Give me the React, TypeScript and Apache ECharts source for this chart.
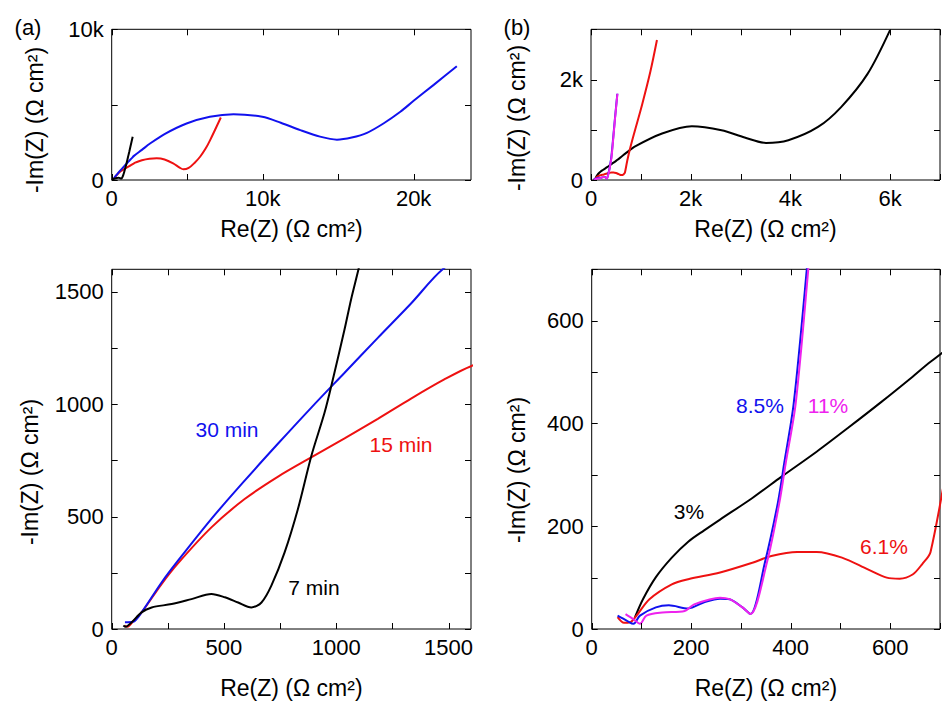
import React, { useEffect, useRef } from "react";
import * as echarts from "echarts";

// ---- data (Re(Z), -Im(Z)) in Ω cm² ----
// panel (a): deposition time
const min7: number[][] = [
  [52, 16], [62, 10], [89, 30], [133, 74], [178, 96], [267, 111], [355, 133], [444, 156],
  [504, 141], [563, 118], [622, 96], [667, 118], [711, 193], [770, 341], [829, 533],
  [889, 770], [948, 963], [985, 1111], [1037, 1333], [1066, 1466], [1099, 1600],
  [1160, 1860], [1250, 2250], [1390, 2870],
];
const min15: number[][] = [
  [59, 15], [70, 10], [96, 35], [133, 74], [222, 200], [296, 293], [444, 452], [592, 578],
  [741, 678], [900, 770], [1037, 848], [1185, 935], [1333, 1025], [1481, 1110], [1600, 1169],
  [2000, 1310], [2500, 1410], [2980, 1437], [3500, 1360], [4070, 1100], [4500, 820],
  [4748, 708], [5100, 800], [5500, 1150], [5855, 1543], [6200, 2050], [6520, 2649],
  [7228, 4150],
];
const min30: number[][] = [
  [59, 30], [95, 32], [133, 74], [222, 207], [296, 305], [444, 490], [592, 660], [741, 825],
  [889, 985], [1037, 1140], [1185, 1295], [1333, 1448], [1474, 1600],
  [2000, 2000], [2540, 2420], [3500, 3050], [4960, 3753], [6500, 4200], [8070, 4371],
  [9970, 4194], [11200, 3800], [12490, 3311], [13800, 2880], [14920, 2679], [15900, 2820],
  [16910, 3132], [18000, 3750], [19120, 4525], [20000, 5254], [21330, 6313], [22860, 7550],
];
// panel (b): doping level
const pct3: number[][] = [
  [87, 23], [103, 58], [129, 101], [161, 139], [194, 170], [226, 192], [258, 213],
  [323, 255], [381, 296], [452, 345], [516, 392], [581, 441], [645, 491], [681, 520],
  [895, 673], [1426, 925], [2022, 1069], [2618, 990], [3082, 846], [3510, 739],
  [3958, 792], [4554, 1056], [5017, 1452], [5547, 2112], [5998, 2984],
];
const pct61: number[][] = [
  [52, 23], [65, 12], [77, 13], [90, 26], [116, 58], [161, 87], [194, 97], [258, 110],
  [323, 129], [361, 142], [413, 150], [452, 150], [503, 139], [555, 116], [593, 100],
  [619, 98], [645, 106], [664, 126], [681, 150], [727, 383], [790, 650], [860, 911],
  [1026, 1505], [1191, 2158], [1323, 2786],
];
const pct85: number[][] = [
  [52, 26], [71, 16], [84, 10], [97, 26], [129, 42], [155, 46], [194, 40], [226, 52],
  [258, 59], [277, 58], [303, 42], [319, 29], [348, 129], [374, 245], [387, 323],
  [406, 439], [432, 697], [478, 1200], [528, 1717],
];
const pct11: number[][] = [
  [68, 29], [84, 19], [97, 10], [110, 26], [142, 32], [187, 35], [206, 48], [258, 61],
  [277, 58], [303, 42], [319, 29], [352, 129], [377, 245], [390, 323], [410, 439],
  [435, 697], [480, 1200], [530, 1717],
];

// tick marks (every tick; labels only on some of them)
const ticksTopAX = [0, 5000, 10000, 15000, 20000];
const ticksTopAY = [0, 5000, 10000];
const ticksTopBX = [0, 1000, 2000, 3000, 4000, 5000, 6000, 7000];
const ticksTopBY = [0, 1000, 2000, 3000];
const ticksBotAX = [0, 250, 500, 750, 1000, 1250, 1500];
const ticksBotAY = [0, 250, 500, 750, 1000, 1250, 1500];
const ticksBotBX = [0, 100, 200, 300, 400, 500, 600, 700];
const ticksBotBY = [0, 100, 200, 300, 400, 500, 600, 700];

const panelLabels = ["(a)", "(b)"];
const labelsA = ["30 min", "15 min", "7 min"];
const labelsB = ["8.5%", "11%", "3%", "6.1%"];

const FONT = "'Liberation Sans', Arial, Helvetica, sans-serif";
const BLACK = "#000000";
const RED = "#ee1111";
const BLUE = "#1111ee";
const MAGENTA = "#ee22ee";
const TICK = 6;

const kFmt = (step: number) => (v: number) =>
  v % step === 0 ? (v === 0 ? "0" : v / 1000 + "k") : "";
const nFmt = (step: number) => (v: number) => (v % step === 0 ? String(v) : "");

type GridDef = {
  left: number; top: number; width: number; height: number;
  xMax: number; xInt: number; xFmt: (v: number) => string; xTicks: number[];
  yMax: number; yInt: number; yFmt: (v: number) => string; yTicks: number[];
  xGap: number; yTitle: [number, number];
};

const grids: GridDef[] = [
  { left: 111.7, top: 29.3, width: 359.3, height: 150.7, xMax: 23800, xInt: 5000, xFmt: kFmt(10000), xTicks: ticksTopAX,
    yMax: 10000, yInt: 5000, yFmt: kFmt(10000), yTicks: ticksTopAY, xGap: 37, yTitle: [35, 120] },
  { left: 591, top: 29.3, width: 350, height: 150.7, xMax: 7000, xInt: 1000, xFmt: kFmt(2000), xTicks: ticksTopBX,
    yMax: 3000, yInt: 1000, yFmt: kFmt(2000), yTicks: ticksTopBY, xGap: 37, yTitle: [517, 118] },
  { left: 111.7, top: 269.3, width: 359.3, height: 359.7, xMax: 1600, xInt: 250, xFmt: nFmt(500), xTicks: ticksBotAX,
    yMax: 1600, yInt: 250, yFmt: nFmt(500), yTicks: ticksBotAY, xGap: 47, yTitle: [30, 472] },
  { left: 591.7, top: 269.3, width: 359.7, height: 359.7, xMax: 700, xInt: 100, xFmt: nFmt(200), xTicks: ticksBotBX,
    yMax: 700, yInt: 100, yFmt: nFmt(200), yTicks: ticksBotBY, xGap: 47, yTitle: [517, 470] },
];

const AXIS_TITLE_X = "Re(Z) (Ω cm²)";
const AXIS_TITLE_Y = "-Im(Z) (Ω cm²)";

const txt = (text: string, x: number, y: number, fill: string, size: number, rotation = 0) => ({
  type: "text", x, y, z: 10, rotation,
  style: { text, fill, font: `${size}px ${FONT}`, align: "center", verticalAlign: "middle" },
});

function baseGraphic(): any[] {
  return [
    txt(panelLabels[0], 28, 27, BLACK, 22),
    txt(panelLabels[1], 517, 27, BLACK, 22),
    ...grids.map((g) => txt(AXIS_TITLE_Y, g.yTitle[0], g.yTitle[1], BLACK, 23, Math.PI / 2)),
    txt(labelsA[0], 227, 429, BLUE, 21),
    txt(labelsA[1], 401, 444, RED, 21),
    txt(labelsA[2], 314, 587, BLACK, 21),
    txt(labelsB[0], 760, 405, BLUE, 21),
    txt(labelsB[1], 828, 405, MAGENTA, 21),
    txt(labelsB[2], 689, 511, BLACK, 21),
    txt(labelsB[3], 884, 546, RED, 21),
  ];
}

function buildOption() {
  const xAxis: any[] = [];
  const yAxis: any[] = [];
  const common = () => ({
    type: "value",
    axisLine: { show: false, onZero: false },
    axisTick: { show: false },
    splitLine: { show: false },
    nameTextStyle: { color: BLACK, fontSize: 23, fontFamily: FONT },
  });
  grids.forEach((g, i) => {
    xAxis.push({
      ...common(), gridIndex: i, position: "bottom", min: 0, max: g.xMax, interval: g.xInt,
      axisLabel: { show: true, formatter: g.xFmt, color: BLACK, fontSize: 22, fontFamily: FONT, margin: 7 },
      name: AXIS_TITLE_X, nameLocation: "middle", nameGap: g.xGap,
    });
    yAxis.push({
      ...common(), gridIndex: i, position: "left", min: 0, max: g.yMax, interval: g.yInt,
      axisLabel: { show: true, formatter: g.yFmt, color: BLACK, fontSize: 22, fontFamily: FONT, margin: 8 },
    });
  });

  const line = (data: number[][], color: string, gi: number, z: number) => ({
    type: "line",
    data,
    xAxisIndex: gi,
    yAxisIndex: gi,
    showSymbol: false,
    symbol: "none",
    smooth: 0.3,
    clip: true,
    z,
    lineStyle: { color, width: 2 },
  });

  const series = [
    line(min15, RED, 0, 2), line(min30, BLUE, 0, 3), line(min7, BLACK, 0, 4),
    line(pct3, BLACK, 1, 2), line(pct61, RED, 1, 3), line(pct85, BLUE, 1, 4), line(pct11, MAGENTA, 1, 5),
    line(min15, RED, 2, 2), line(min30, BLUE, 2, 3), line(min7, BLACK, 2, 4),
    line(pct3, BLACK, 3, 2), line(pct61, RED, 3, 3), line(pct85, BLUE, 3, 4), line(pct11, MAGENTA, 3, 5),
  ];

  return {
    animation: false,
    backgroundColor: "#ffffff",
    textStyle: { fontFamily: FONT },
    grid: grids.map((g) => ({
      show: true, left: g.left, top: g.top, width: g.width, height: g.height, containLabel: false,
      borderColor: BLACK, borderWidth: 1, backgroundColor: "transparent",
    })),
    xAxis,
    yAxis,
    series,
    graphic: baseGraphic(),
  };
}

// inward tick marks on all four sides, positioned through the axes' own scales
function tickGraphics(chart: echarts.ECharts): any[] {
  const out: any[] = [];
  const st = { stroke: BLACK, lineWidth: 1 };
  const crisp = (v: number) => Math.round(v) + 0.5;
  grids.forEach((g, i) => {
    const px = (v: number) => chart.convertToPixel({ xAxisIndex: i } as any, v) as unknown as number;
    const py = (v: number) => chart.convertToPixel({ yAxisIndex: i } as any, v) as unknown as number;
    const x0 = px(0), x1 = px(g.xMax);
    const y0 = py(0), y1 = py(g.yMax);
    g.xTicks.forEach((v) => {
      const x = crisp(px(v));
      out.push({ type: "line", z: 20, silent: true, shape: { x1: x, y1: y0, x2: x, y2: y0 - TICK }, style: st });
      out.push({ type: "line", z: 20, silent: true, shape: { x1: x, y1: y1, x2: x, y2: y1 + TICK }, style: st });
    });
    g.yTicks.forEach((v) => {
      const y = crisp(py(v));
      out.push({ type: "line", z: 20, silent: true, shape: { x1: x0, y1: y, x2: x0 + TICK, y2: y }, style: st });
      out.push({ type: "line", z: 20, silent: true, shape: { x1: x1, y1: y, x2: x1 - TICK, y2: y }, style: st });
    });
  });
  return out;
}

export default function App() {
  const ref = useRef<HTMLDivElement>(null);
  useEffect(() => {
    if (!ref.current) return;
    const chart = echarts.init(ref.current, null, { renderer: "svg" });
    chart.setOption(buildOption() as any);
    try {
      const ticks = tickGraphics(chart);
      chart.setOption({ graphic: [...baseGraphic(), ...ticks] } as any, { replaceMerge: ["graphic"] } as any);
    } catch (e) {
      // keep the chart without tick marks if conversion fails
    }
    return () => chart.dispose();
  }, []);
  return (
    <div
      ref={ref}
      style={{ position: "fixed", left: 0, top: 0, width: 943, height: 704, background: "#fff" }}
    />
  );
}
